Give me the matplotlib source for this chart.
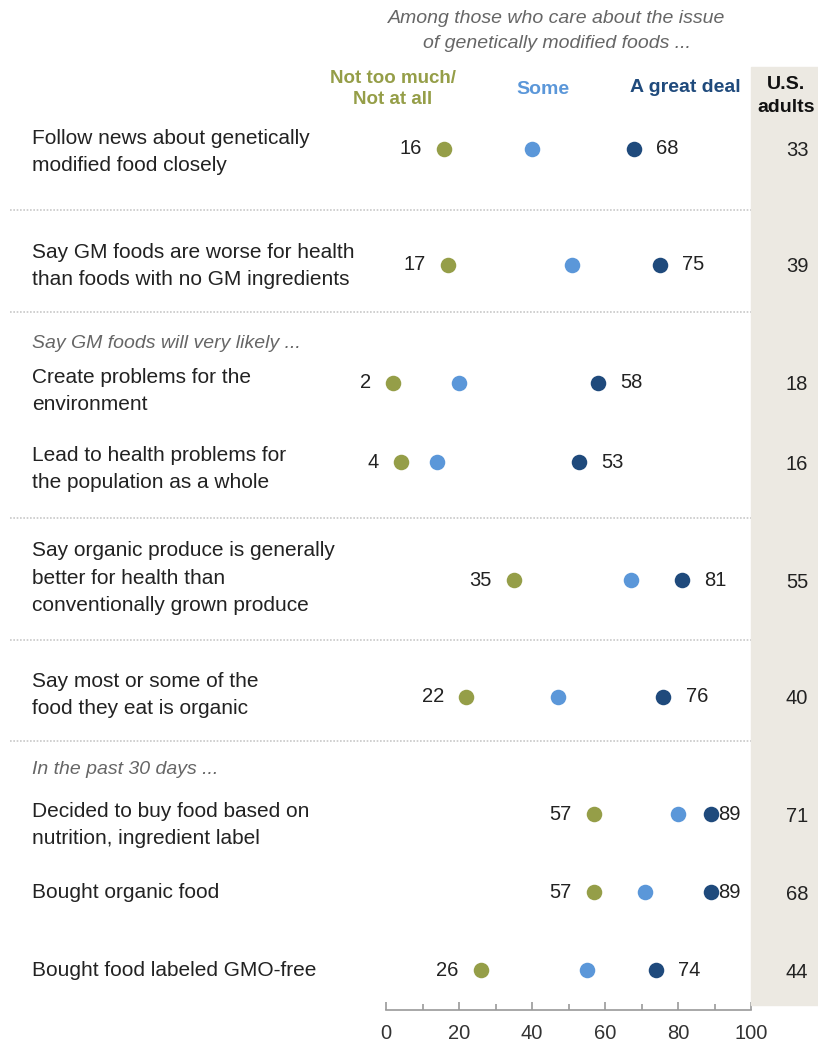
import matplotlib
matplotlib.use("Agg")
import matplotlib.pyplot as plt
from matplotlib.transforms import blended_transform_factory

plt.rcParams['font.family'] = ['Liberation Sans', 'DejaVu Sans']

# ---- data ----
row_labels = [
    "Follow news about genetically\nmodified food closely",
    "Say GM foods are worse for health\nthan foods with no GM ingredients",
    "Create problems for the\nenvironment",
    "Lead to health problems for\nthe population as a whole",
    "Say organic produce is generally\nbetter for health than\nconventionally grown produce",
    "Say most or some of the\nfood they eat is organic",
    "Decided to buy food based on\nnutrition, ingredient label",
    "Bought organic food",
    "Bought food labeled GMO-free",
]
not_too_much = [16, 17, 2, 4, 35, 22, 57, 57, 26]
some = [40, 51, 20, 14, 67, 47, 80, 71, 55]
great_deal = [68, 75, 58, 53, 81, 76, 89, 89, 74]
us_adults = [33, 39, 18, 16, 55, 40, 71, 68, 44]
section_labels = ["Say GM foods will very likely ...", "In the past 30 days ..."]
series_names = ["Not too much/\nNot at all", "Some", "A great deal"]
x_ticks = [0, 20, 40, 60, 80, 100]

# ---- layout (pixel rows, top-down) ----
W, H = 818, 1045
dot_y = [149, 265, 383, 462, 580, 697, 814, 892, 970]
label_y = [152, 266, 391, 469, 578, 695, 825, 893, 971]
sep_y = [210, 312, 518, 640, 741]
section_y = [343, 770]
right_offset = [16, 16, 16, 16, 16, 16, 5, 5, 16]

c_green = "#959E48"
c_light = "#5B97D9"
c_dark = "#1F4A7C"
c_gray_bg = "#ECE9E2"
c_text = "#222222"

fig = plt.figure(figsize=(W / 100, H / 100), dpi=100)
x0, x1 = 386, 751
ax_bottom = 1010
ax = fig.add_axes([x0 / W, 1 - ax_bottom / H, (x1 - x0) / W, ax_bottom / H])
ax.set_xlim(0, 100)
ax.set_ylim(ax_bottom, 0)
ax.patch.set_alpha(0)
for s in ["top", "right", "left"]:
    ax.spines[s].set_visible(False)
ax.spines["bottom"].set_color("#9a9a9a")
ax.spines["bottom"].set_linewidth(1.2)
ax.set_yticks([])
ax.set_xticks(x_ticks)
ax.set_xticks([10, 30, 50, 70, 90], minor=True)
ax.tick_params(axis="x", which="major", direction="in", length=6, width=1.2,
               color="#9a9a9a", labelsize=14.5, labelcolor="#333333", pad=10)
ax.tick_params(axis="x", which="minor", direction="in", length=4, width=1.2,
               color="#9a9a9a")

tr = blended_transform_factory(fig.transFigure, ax.transData)

# gray column for U.S. adults
fig.patches.append(plt.Rectangle((x1 / W, 1 - 1005 / H), (W - x1) / W, (1005 - 67) / H,
                                 transform=fig.transFigure, color=c_gray_bg, zorder=0))

# separators
for y in sep_y:
    ax.plot([10 / W, 1.0], [y, y], transform=tr, color="#c8c8c8", lw=1.2,
            ls=(0, (1, 1)), clip_on=False, zorder=1)

# dots
ax.scatter(not_too_much, dot_y, s=125, color=c_green, zorder=3, clip_on=False, linewidths=0)
ax.scatter(some, dot_y, s=125, color=c_light, zorder=3, clip_on=False, linewidths=0)
ax.scatter(great_deal, dot_y, s=125, color=c_dark, zorder=3, clip_on=False, linewidths=0)

for i in range(len(dot_y)):
    ax.annotate(str(not_too_much[i]), (not_too_much[i], dot_y[i]), xytext=(-16, 0),
                textcoords="offset points", ha="right", va="center", fontsize=14.5,
                color=c_text)
    ax.annotate(str(great_deal[i]), (great_deal[i], dot_y[i]), xytext=(right_offset[i], 0),
                textcoords="offset points", ha="left", va="center", fontsize=14.5,
                color=c_text)
    fig.text(797 / W, dot_y[i] + 2, str(us_adults[i]), transform=tr, ha="center",
             va="center", fontsize=14.5, color=c_text)
    fig.text(32 / W, label_y[i], row_labels[i], transform=tr, ha="left", va="center",
             fontsize=15, color=c_text, linespacing=1.55)

for y, t in zip(section_y, section_labels):
    fig.text(32 / W, y, t, transform=tr, ha="left", va="center", fontsize=14,
             color="#666666", style="italic")

# headers
fig.text(557 / W, 31, "Among those who care about the issue\nof genetically modified foods ...",
         transform=tr, ha="center", va="center", fontsize=14, color="#666666",
         style="italic", linespacing=1.6)
fig.text(393 / W, 89, series_names[0], transform=tr, ha="center", va="center",
         fontsize=13.5, color=c_green, fontweight="bold", linespacing=1.35)
fig.text(543 / W, 89, series_names[1], transform=tr, ha="center", va="center",
         fontsize=14, color=c_light, fontweight="bold")
fig.text(685 / W, 88, series_names[2], transform=tr, ha="center", va="center",
         fontsize=14, color=c_dark, fontweight="bold")
fig.text(786 / W, 96, "U.S.\nadults", transform=tr, ha="center", va="center",
         fontsize=14, color="#111111", fontweight="bold", linespacing=1.4)

fig.savefig("out.png", dpi=100)
